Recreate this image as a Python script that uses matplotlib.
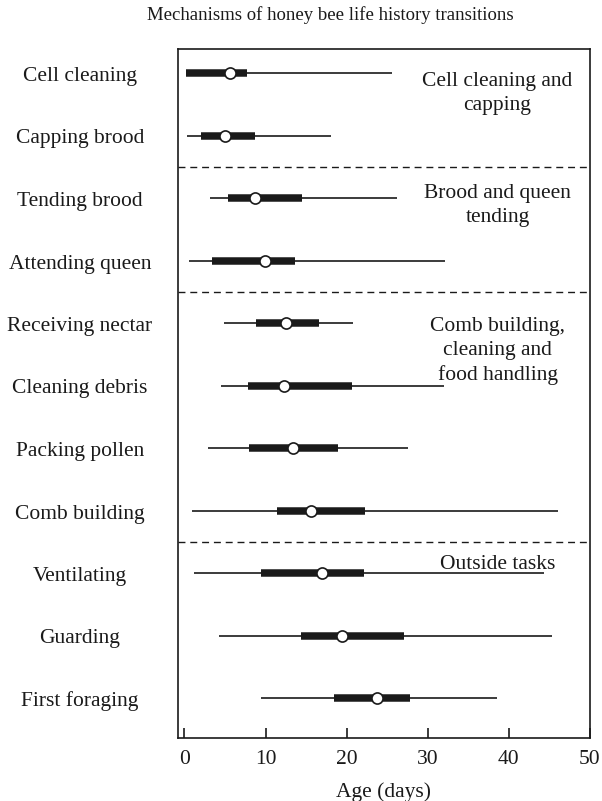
import matplotlib
matplotlib.use("Agg")
import matplotlib.pyplot as plt

tasks = ["Cell cleaning", "Capping brood", "Tending brood", "Attending queen",
         "Receiving nectar", "Cleaning debris", "Packing pollen", "Comb building",
         "Ventilating", "Guarding", "First foraging"]
low = [0.15, 0.35, 3.15, 0.56, 4.88, 4.54, 2.94, 0.89, 1.17, 4.26, 9.41]
q1 = [0.15, 2.0, 5.37, 3.43, 8.79, 7.88, 7.96, 11.38, 9.41, 14.35, 18.46]
median = [5.58, 5.0, 8.7, 9.9, 12.49, 12.28, 13.43, 15.65, 17.0, 19.4, 23.68]
q3 = [7.75, 8.7, 14.54, 13.64, 16.6, 20.64, 18.95, 22.28, 22.16, 27.1, 27.8]
high = [25.58, 18.05, 26.15, 32.16, 20.8, 32.04, 27.5, 46.0, 44.38, 45.33, 38.5]

group_labels = ["Cell cleaning and\ncapping", "Brood and queen\ntending",
                "Comb building,\ncleaning and\nfood handling", "Outside tasks"]
group_label_y = [0.33, 2.12, 4.45, 7.87]
separators = [1.5, 3.5, 7.5]
xticks = [0, 10, 20, 30, 40, 50]

plt.rcParams['font.family'] = ['Liberation Serif', 'DejaVu Serif']
fig = plt.figure(figsize=(6.02, 8.01), dpi=100)
ax = fig.add_axes([178/602, 1-738/801, (590-178)/602, (738-49)/801])

ys = list(range(len(tasks)))
for y, lo, a, m, b, hi in zip(ys, low, q1, median, q3, high):
    ax.plot([lo, hi], [y, y], color='#1a1a1a', lw=1.2, solid_capstyle='butt', zorder=2)
    ax.plot([a, b], [y, y], color='#1a1a1a', lw=5.4, solid_capstyle='butt', zorder=3)
ax.plot(median, ys, 'o', ms=8, mfc='white', mec='#1a1a1a', mew=1.2, zorder=4, ls='none')

for s in separators:
    ax.axhline(s, color='#1a1a1a', lw=1.0, ls=(0, (5, 3.5)), zorder=1)

for lab, gy in zip(group_labels, group_label_y):
    ax.text(38.6, gy, lab, ha='center', va='center', fontsize=15.5,
            linespacing=1.37, color='#1a1a1a')

ax.set_xlim(-0.8, 50)
ax.set_ylim(10.64, -0.384)
ax.set_xticks(xticks)
ax.set_xticklabels([str(t) for t in xticks], fontsize=15.5)
ax.tick_params(axis='x', direction='in', length=7, width=1.2, pad=9, colors='#1a1a1a')
ax.set_yticks([])
for t, y in zip(tasks, ys):
    fig.text(80/602, 1-(74+62.5*y)/801, t, ha='center', va='center_baseline',
             fontsize=15.5, color='#1a1a1a')
for sp in ax.spines.values():
    sp.set_linewidth(1.2)
    sp.set_color('#1a1a1a')
ax.set_xlabel("Age (days)", fontsize=15.5, labelpad=9, color='#1a1a1a')
fig.text(330/602, 1-15/801, "Mechanisms of honey bee life history transitions",
         ha='center', va='center', fontsize=13.5, color='#1a1a1a')

fig.savefig("out.png", dpi=100)
